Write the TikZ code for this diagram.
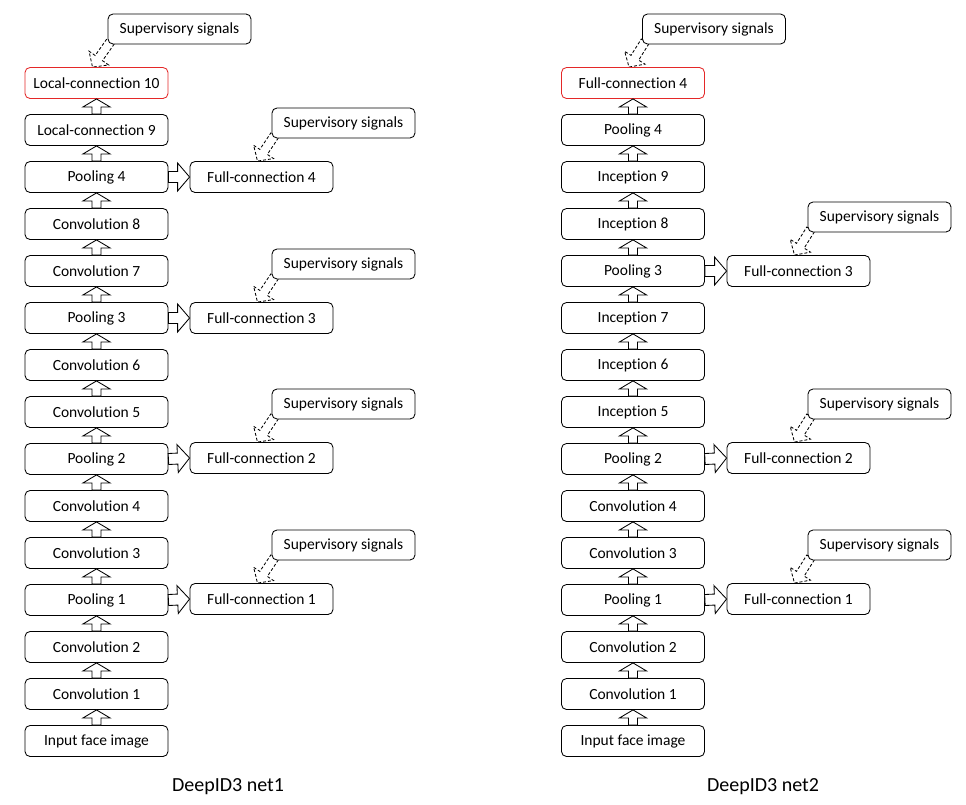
\documentclass[tikz,border=0pt]{standalone}
\usepackage{fontspec}
\setmainfont{Carlito}[Ligatures={NoCommon,NoContextual}]
\usetikzlibrary{calc,backgrounds}
\definecolor{redbox}{RGB}{228,40,40}
\newcommand\blockarrow[6]{%
  \draw[#1] ($(#2)!#4!90:(#3)$) -- ($(#3)!#6!(#2)!#4!90:(#3)$) -- ($(#3)!#6!(#2)!#5!90:(#3)$) -- (#3)
    -- ($(#3)!#6!(#2)!#5!-90:(#3)$) -- ($(#3)!#6!(#2)!#4!-90:(#3)$) -- ($(#2)!#4!-90:(#3)$) -- cycle;}
\tikzset{
  layer/.style={draw, rounded corners=5pt, minimum width=143pt, minimum height=31pt, inner sep=0pt,
    fill=white, line width=0.85pt, font=\fontsize{15.5}{18}\selectfont},
  top/.style={layer, draw=redbox},
  sup/.style={layer, minimum height=30pt},
  caption/.style={font=\fontsize{20}{24}\selectfont},
  arr/.style={draw, fill=white, line width=0.85pt, line join=miter},
  darr/.style={draw, fill=white, line width=0.85pt, dash pattern=on 3pt off 2pt},
}
\begin{document}
\begin{tikzpicture}[x=1pt,y=-1pt]
\useasboundingbox (0,0) rectangle (966,804);
% left column
\foreach \t [count=\i from 0] in {Local-connection 10, Local-connection 9, Pooling 4, Convolution 8, Convolution 7, Pooling 3, Convolution 6, Convolution 5, Pooling 2, Convolution 4, Convolution 3, Pooling 1, Convolution 2, Convolution 1, Input face image}{
  \ifnum\i=0
    \node[top] (L\i) at (96.5,{83+47*\i}) {\t};
  \else
    \node[layer] (L\i) at (96.5,{83+47*\i}) {\t};
  \fi
}
% right column
\foreach \t [count=\i from 0] in {Full-connection 4, Pooling 4, Inception 9, Inception 8, Pooling 3, Inception 7, Inception 6, Inception 5, Pooling 2, Convolution 4, Convolution 3, Pooling 1, Convolution 2, Convolution 1, Input face image}{
  \ifnum\i=0
    \node[top] (R\i) at (633,{83+47*\i}) {\t};
  \else
    \node[layer] (R\i) at (633,{83+47*\i}) {\t};
  \fi
}
% vertical arrows
\foreach \i [evaluate=\i as \j using int(\i+1)] in {0,...,13}{
  \blockarrow{arr}{L\j.north}{L\i.south}{4.5pt}{13.5pt}{8pt}
  \blockarrow{arr}{R\j.north}{R\i.south}{4.5pt}{13.5pt}{8pt}
}
% side full-connection boxes (left)
\node[layer] (LF4) at (261.5,177) {Full-connection 4};
\node[layer] (LF3) at (261.5,318) {Full-connection 3};
\node[layer] (LF2) at (261.5,458) {Full-connection 2};
\node[layer] (LF1) at (261.5,599) {Full-connection 1};
% side full-connection boxes (right)
\node[layer] (RF3) at (798.5,271) {Full-connection 3};
\node[layer] (RF2) at (798.5,458) {Full-connection 2};
\node[layer] (RF1) at (798.5,599) {Full-connection 1};
% horizontal arrows
\blockarrow{arr}{L2.east}{LF4.west}{5.5pt}{14pt}{12pt}
\blockarrow{arr}{L5.east}{LF3.west}{5.5pt}{14pt}{12pt}
\blockarrow{arr}{L8.east}{LF2.west}{5.5pt}{14pt}{12pt}
\blockarrow{arr}{L11.east}{LF1.west}{5.5pt}{14pt}{12pt}
\blockarrow{arr}{R4.east}{RF3.west}{5.5pt}{14pt}{12pt}
\blockarrow{arr}{R8.east}{RF2.west}{5.5pt}{14pt}{12pt}
\blockarrow{arr}{R11.east}{RF1.west}{5.5pt}{14pt}{12pt}
% supervisory signal boxes
\node[sup] (LS0) at (179.5,29) {Supervisory signals};
\node[sup] (LS4) at (343.5,123) {Supervisory signals};
\node[sup] (LS3) at (343.5,264) {Supervisory signals};
\node[sup] (LS2) at (343.5,404) {Supervisory signals};
\node[sup] (LS1) at (343.5,545) {Supervisory signals};
\node[sup] (RS0) at (714,29) {Supervisory signals};
\node[sup] (RS3) at (879.5,217) {Supervisory signals};
\node[sup] (RS2) at (879.5,404) {Supervisory signals};
\node[sup] (RS1) at (879.5,545) {Supervisory signals};
% dashed arrows (behind the boxes)
\begin{pgfonlayer}{background}
\foreach \s/\d in {LS0/L0, LS4/LF4, LS3/LF3, LS2/LF2, LS1/LF1, RS0/R0, RS3/RF3, RS2/RF2, RS1/RF1}{
  \coordinate (\s-tail) at ($(\s.south west)+(3,-3)$);
  \coordinate (\s-tip) at ($(\d.north)+(-4,0)$);
  \blockarrow{darr}{\s-tail}{\s-tip}{4.5pt}{12pt}{11pt}
}
\end{pgfonlayer}
% captions
\node[caption] (C1) at (228,787) {DeepID3 net1};
\node[caption] (C2) at (763,787) {DeepID3 net2};
\end{tikzpicture}
\end{document}
